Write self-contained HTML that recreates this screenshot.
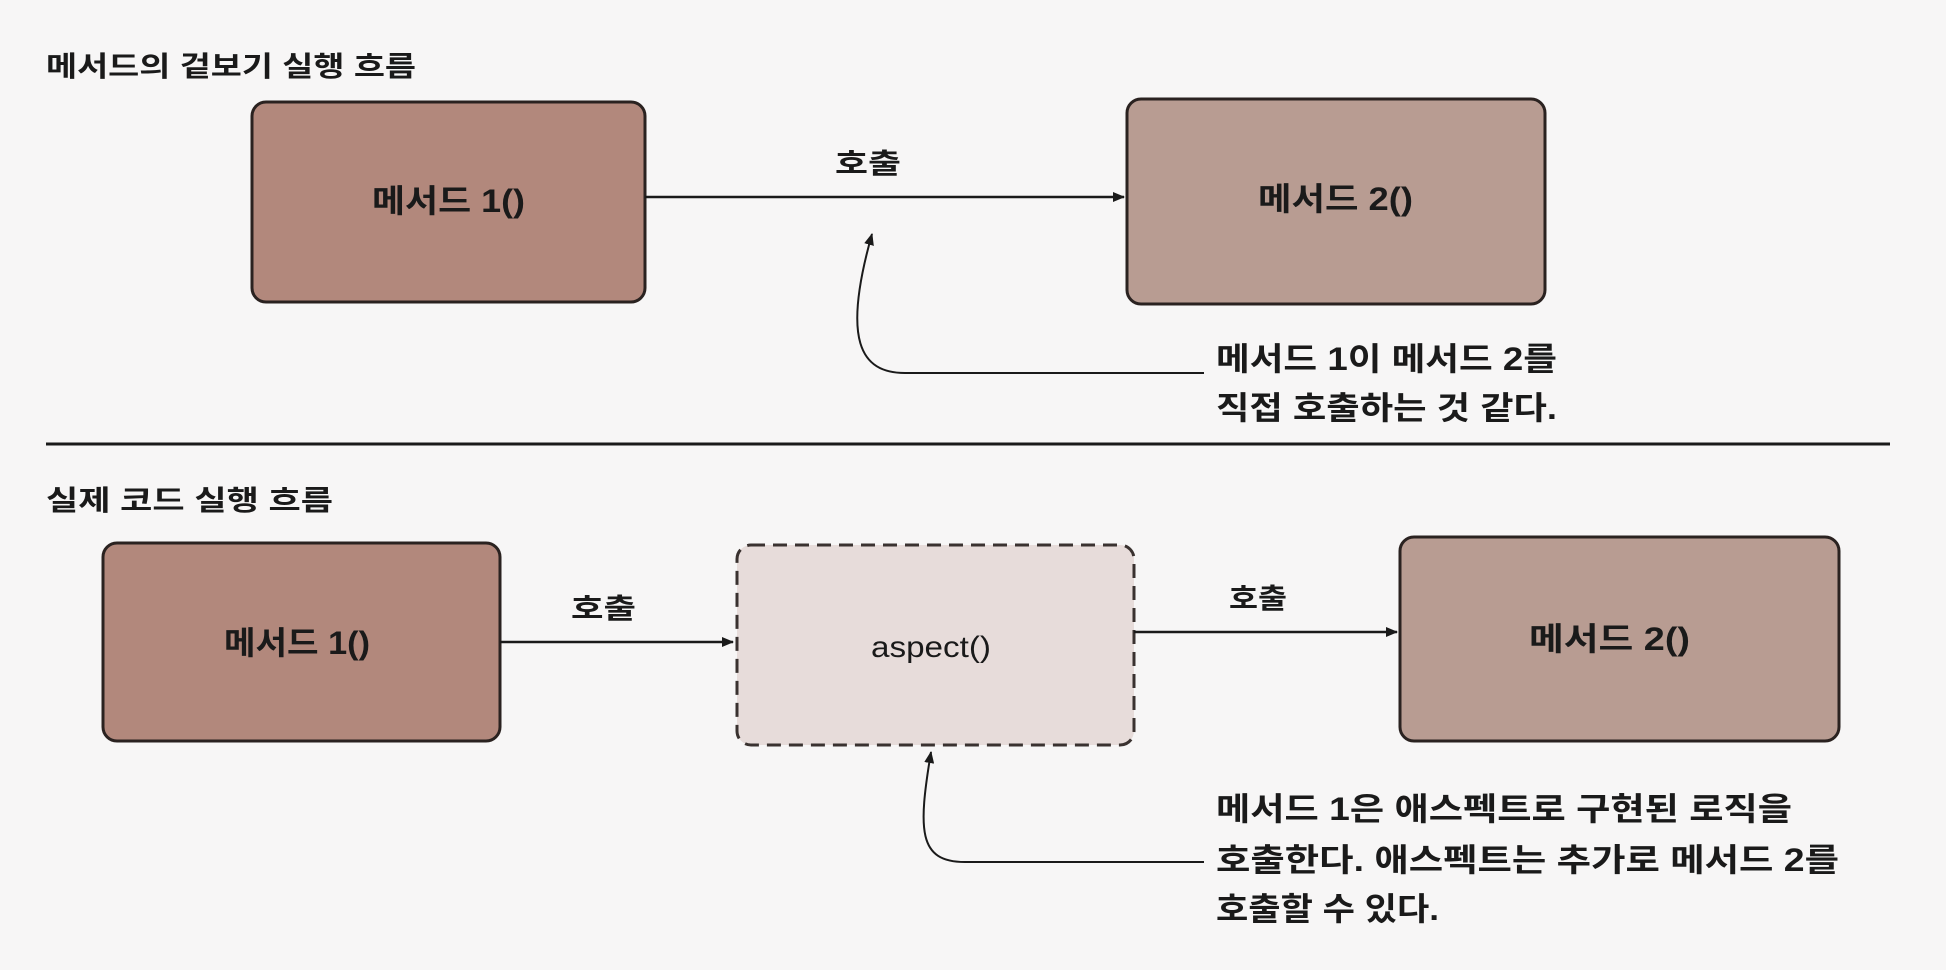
<!DOCTYPE html>
<html><head><meta charset="utf-8"><style>
html,body{margin:0;padding:0;background:#f7f6f6;}
svg{display:block}
text{font-family:"Liberation Sans","Noto Sans CJK KR","NanumGothic",sans-serif;fill:#1a1a1a}
</style></head><body>
<svg width="1946" height="970" viewBox="0 0 1946 970" xmlns="http://www.w3.org/2000/svg">
<defs>
<marker id="ah" markerWidth="12" markerHeight="10" refX="11" refY="5" orient="auto" markerUnits="userSpaceOnUse">
<path d="M0,0 L12,5 L0,10 Z" fill="#1a1a1a"/></marker>
</defs>
<rect width="1946" height="970" fill="#f7f6f6"/>
<text x="46" y="76" font-size="28" font-weight="bold" textLength="370" lengthAdjust="spacingAndGlyphs">메서드의 겉보기 실행 흐름</text>
<rect x="252" y="102" width="393" height="200" rx="14" fill="#b2887c" stroke="#2a2220" stroke-width="3"/>
<text x="372" y="212" font-size="32" font-weight="bold" textLength="153" lengthAdjust="spacingAndGlyphs">메서드 1()</text>
<rect x="1127" y="99" width="418" height="205" rx="14" fill="#b89c92" stroke="#2a2220" stroke-width="3"/>
<text x="1258" y="210" font-size="32" font-weight="bold" textLength="155" lengthAdjust="spacingAndGlyphs">메서드 2()</text>
<line x1="645" y1="197" x2="1124" y2="197" stroke="#1a1a1a" stroke-width="2.5" marker-end="url(#ah)"/>
<text x="835" y="173" font-size="28" font-weight="bold" textLength="66" lengthAdjust="spacingAndGlyphs">호출</text>
<path d="M1204,373 L905,373 C860,373 842,340 872,234" fill="none" stroke="#1a1a1a" stroke-width="2" marker-end="url(#ah)"/>
<text x="1216" y="370" font-size="32" font-weight="bold" textLength="341" lengthAdjust="spacingAndGlyphs">메서드 1이 메서드 2를</text>
<text x="1216" y="419" font-size="32" font-weight="bold" textLength="341" lengthAdjust="spacingAndGlyphs">직접 호출하는 것 같다.</text>
<line x1="46" y1="444" x2="1890" y2="444" stroke="#1a1a1a" stroke-width="3"/>
<text x="46" y="510" font-size="28" font-weight="bold" textLength="287" lengthAdjust="spacingAndGlyphs">실제 코드 실행 흐름</text>
<rect x="103" y="543" width="397" height="198" rx="14" fill="#b2887c" stroke="#2a2220" stroke-width="3"/>
<text x="224" y="654" font-size="32" font-weight="bold" textLength="146" lengthAdjust="spacingAndGlyphs">메서드 1()</text>
<rect x="737" y="545" width="397" height="200" rx="14" fill="#e7dcda" stroke="#3a3230" stroke-width="3" stroke-dasharray="14,8"/>
<text x="871" y="657" font-size="30" textLength="120" lengthAdjust="spacingAndGlyphs">aspect()</text>
<rect x="1400" y="537" width="439" height="204" rx="14" fill="#b89c92" stroke="#2a2220" stroke-width="3"/>
<text x="1529" y="650" font-size="32" font-weight="bold" textLength="161" lengthAdjust="spacingAndGlyphs">메서드 2()</text>
<line x1="500" y1="642" x2="733" y2="642" stroke="#1a1a1a" stroke-width="2.5" marker-end="url(#ah)"/>
<text x="571" y="618" font-size="28" font-weight="bold" textLength="65" lengthAdjust="spacingAndGlyphs">호출</text>
<line x1="1134" y1="632" x2="1397" y2="632" stroke="#1a1a1a" stroke-width="2.5" marker-end="url(#ah)"/>
<text x="1229" y="608" font-size="28" font-weight="bold" textLength="58" lengthAdjust="spacingAndGlyphs">호출</text>
<path d="M1204,862 L965,862 C918,862 918,830 931,752" fill="none" stroke="#1a1a1a" stroke-width="2" marker-end="url(#ah)"/>
<text x="1216" y="820" font-size="32" font-weight="bold" textLength="576" lengthAdjust="spacingAndGlyphs">메서드 1은 애스펙트로 구현된 로직을</text>
<text x="1216" y="871" font-size="32" font-weight="bold" textLength="623" lengthAdjust="spacingAndGlyphs">호출한다. 애스펙트는 추가로 메서드 2를</text>
<text x="1216" y="920" font-size="32" font-weight="bold" textLength="223" lengthAdjust="spacingAndGlyphs">호출할 수 있다.</text>
</svg>
</body></html>
